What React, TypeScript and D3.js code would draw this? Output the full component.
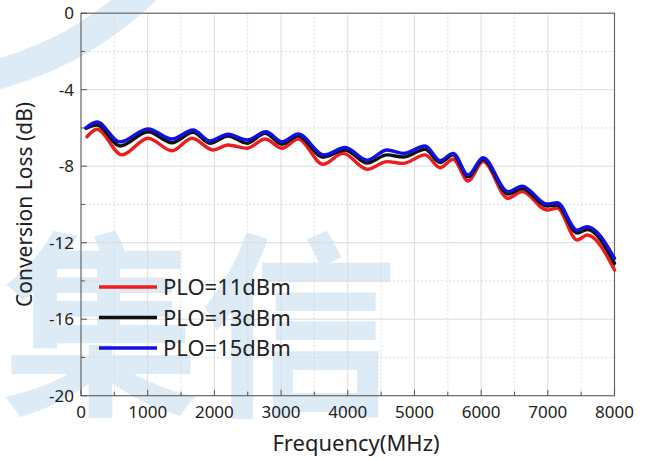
import React from "react";
import * as d3 from "d3";

// Frequency (MHz) knots and conversion loss (dB) for each LO drive level
const freqRed = [90, 240, 615, 1005, 1365, 1665, 1980, 2205, 2490, 2760, 3015, 3255, 3630, 3930, 4290, 4590, 4830, 5160, 5385, 5580, 5805, 6030, 6405, 6615, 6990, 7140, 7440, 7590, 8000];
const lossRed = [-6.46, -6.07, -7.41, -6.54, -7.19, -6.54, -7.15, -6.89, -7.06, -6.58, -7.06, -6.58, -7.9, -7.33, -8.16, -7.76, -7.85, -7.41, -8.08, -7.64, -8.77, -7.76, -9.68, -9.33, -10.29, -10.19, -11.86, -11.6, -13.43];

const freqBlack = [75, 240, 585, 1005, 1365, 1680, 1935, 2205, 2490, 2760, 3015, 3255, 3630, 3960, 4290, 4590, 4830, 5160, 5385, 5580, 5805, 6030, 6405, 6615, 6990, 7140, 7440, 7590, 8000];
const lossBlack = [-6.02, -5.85, -6.94, -6.2, -6.77, -6.23, -6.8, -6.42, -6.8, -6.28, -6.85, -6.41, -7.53, -7.15, -7.83, -7.41, -7.52, -7.12, -7.81, -7.41, -8.56, -7.65, -9.45, -9.17, -10.08, -10.03, -11.49, -11.31, -13.08];

const freqBlue = [75, 240, 585, 1005, 1365, 1680, 1935, 2205, 2490, 2775, 3015, 3255, 3645, 3960, 4290, 4590, 4830, 5160, 5385, 5580, 5805, 6030, 6405, 6615, 6990, 7140, 7440, 7590, 8000];
const lossBlue = [-5.99, -5.69, -6.73, -6.05, -6.58, -6.11, -6.68, -6.33, -6.63, -6.2, -6.73, -6.32, -7.41, -7.02, -7.68, -7.15, -7.33, -6.94, -7.71, -7.33, -8.46, -7.56, -9.33, -9.04, -9.98, -9.91, -11.34, -11.16, -12.82];

const seriesNames = ["PLO=11dBm", "PLO=13dBm", "PLO=15dBm"];
const seriesColors = ["#ee1c1c", "#111111", "#1010e6"];

const xTicks = [0, 1000, 2000, 3000, 4000, 5000, 6000, 7000, 8000];
const xMinorTicks = [500, 1500, 2500, 3500, 4500, 5500, 6500, 7500];
const yTicks = [0, -4, -8, -12, -16, -20];
const yMinorTicks = [-2, -6, -10, -14, -18];

const W = 650;
const H = 459;
const left = 81;
const right = 614.5;
const top = 13.2;
const bottom = 395.7;
const FONT = "'Noto Sans', 'Open Sans', sans-serif";

export default function App() {
  const x = d3.scaleLinear().domain([0, 8000]).range([left, right]);
  const y = d3.scaleLinear().domain([-20, 0]).range([bottom, top]);

  const line = d3
    .line<[number, number]>()
    .x((d) => x(d[0]))
    .y((d) => y(d[1]))
    .curve(d3.curveMonotoneX);

  const series = [
    { f: freqRed, v: lossRed },
    { f: freqBlack, v: lossBlack },
    { f: freqBlue, v: lossBlue },
  ];

  // Decorative arc in the upper-left corner
  const arc = d3.arc()({
    innerRadius: 321,
    outerRadius: 351,
    startAngle: Math.PI * 0.3,
    endAngle: Math.PI * 1.0,
  } as any) as string;

  const legendY = [287, 317.5, 348];

  return (
    <svg
      width={W}
      height={H}
      style={{ position: "absolute", left: 0, top: 0, background: "#fff" }}
    >
      <rect x={0} y={0} width={W} height={H} fill="#fff" />
      {/* watermark */}
      <g fill="#ddebf6">
        <path d={arc} transform="translate(-90,-250)" />
        <text
          x={2}
          y={400}
          fontSize={198}
          fontWeight={700}
          fontFamily="'Noto Sans CJK SC', sans-serif"
        >
          集信
        </text>
      </g>

      {/* grid */}
      <g>
        {xMinorTicks.map((t) => (
          <line key={"xm" + t} x1={x(t)} x2={x(t)} y1={top} y2={bottom} stroke="#d6d6d6" strokeWidth={0.8} strokeDasharray="2,2" />
        ))}
        {yMinorTicks.map((t) => (
          <line key={"ym" + t} x1={left} x2={right} y1={y(t)} y2={y(t)} stroke="#d6d6d6" strokeWidth={0.8} strokeDasharray="2,2" />
        ))}
        {xTicks.slice(1, -1).map((t) => (
          <line key={"xg" + t} x1={x(t)} x2={x(t)} y1={top} y2={bottom} stroke="#dcdcdc" strokeWidth={1} />
        ))}
        {yTicks.slice(1, -1).map((t) => (
          <line key={"yg" + t} x1={left} x2={right} y1={y(t)} y2={y(t)} stroke="#dcdcdc" strokeWidth={1} />
        ))}
      </g>

      {/* frame */}
      <rect x={left} y={top} width={right - left} height={bottom - top} fill="none" stroke="#666" strokeWidth={1.2} />

      {/* ticks */}
      <g stroke="#555" strokeWidth={1}>
        {xTicks.map((t) => (
          <line key={"xt" + t} x1={x(t)} x2={x(t)} y1={bottom} y2={bottom - 6} />
        ))}
        {xMinorTicks.map((t) => (
          <line key={"xmt" + t} x1={x(t)} x2={x(t)} y1={bottom} y2={bottom - 4} />
        ))}
        {yTicks.map((t) => (
          <line key={"yt" + t} x1={left} x2={left + 6} y1={y(t)} y2={y(t)} />
        ))}
        {yMinorTicks.map((t) => (
          <line key={"ymt" + t} x1={left} x2={left + 4} y1={y(t)} y2={y(t)} />
        ))}
      </g>

      {/* tick labels */}
      <g fontFamily={FONT} fontSize={17} fill="#222">
        {xTicks.map((t) => (
          <text key={"xl" + t} x={x(t)} y={418} textAnchor="middle">
            {t}
          </text>
        ))}
        {yTicks.map((t) => (
          <text key={"yl" + t} x={74} y={y(t) + 6} textAnchor="end">
            {t}
          </text>
        ))}
      </g>

      {/* axis titles */}
      <text x={356} y={451} textAnchor="middle" fontFamily={FONT} fontSize={22} fill="#222">
        Frequency(MHz)
      </text>
      <text
        transform={`translate(32,${(top + bottom) / 2}) rotate(-90)`}
        textAnchor="middle"
        fontFamily={FONT}
        fontSize={21}
        fill="#222"
      >
        Conversion Loss (dB)
      </text>

      {/* curves */}
      <g fill="none" strokeWidth={3.4} strokeLinejoin="round" strokeLinecap="round">
        {series.map((s, i) => (
          <path
            key={"s" + i}
            d={line(s.f.map((f, j) => [f, s.v[j]] as [number, number])) || ""}
            stroke={seriesColors[i]}
          />
        ))}
      </g>

      {/* legend */}
      <g fontFamily={FONT} fontSize={22} fill="#222">
        {seriesNames.map((n, i) => (
          <g key={"lg" + i}>
            <line x1={99} x2={157} y1={legendY[i]} y2={legendY[i]} stroke={seriesColors[i]} strokeWidth={3.4} />
            <text x={163} y={legendY[i] + 8}>
              {n}
            </text>
          </g>
        ))}
      </g>
    </svg>
  );
}
